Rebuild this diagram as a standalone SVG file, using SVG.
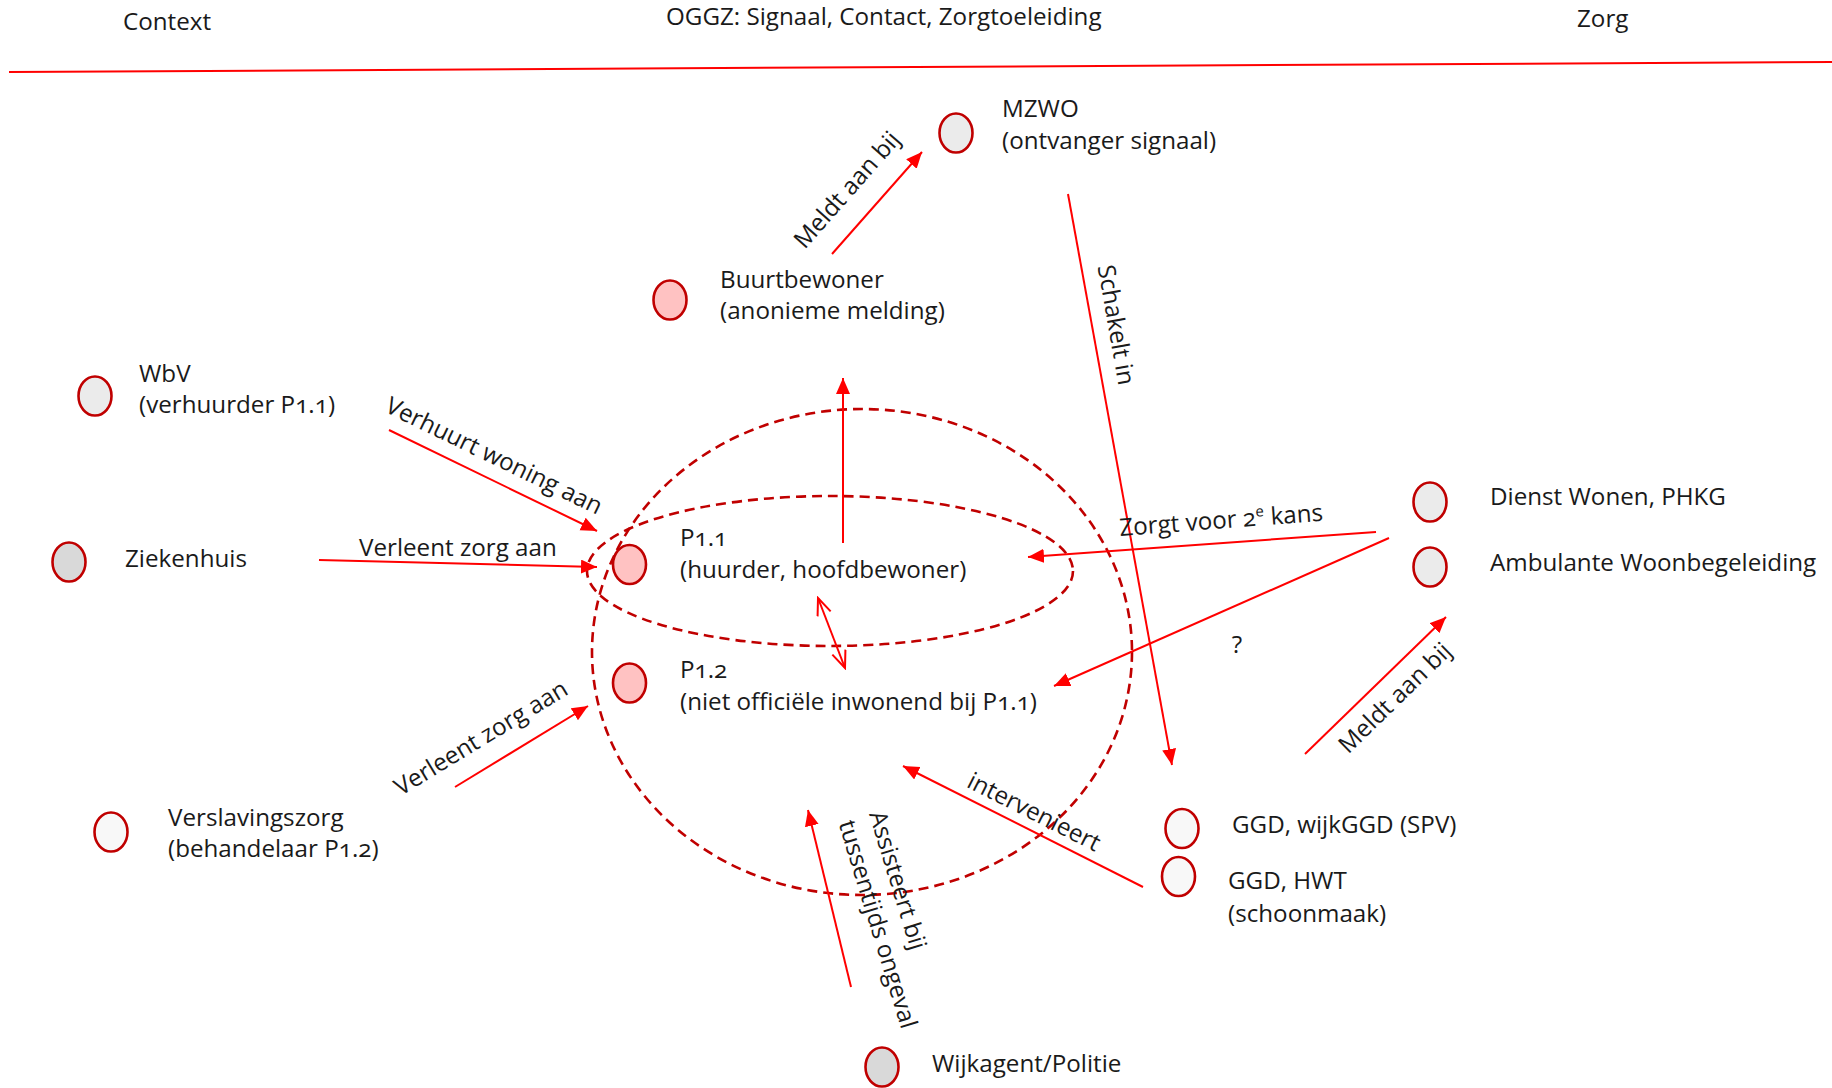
<svg xmlns="http://www.w3.org/2000/svg" width="1832" height="1088" viewBox="0 0 1832 1088">
<style>
text{font-family:"Open Sans","Noto Sans","Liberation Sans",sans-serif;font-size:24.2px;fill:#1a1a1a;font-variant-numeric:oldstyle-nums}
.node{stroke:#c00000;stroke-width:2.6}
.grey{fill:#ebebeb}.dark{fill:#d9d9d9}.pink{fill:#ffc2c2}.white{fill:#f8f8f8}
.arr{stroke:#ff0000;stroke-width:2;fill:none;marker-end:url(#ah)}
.dash{stroke:#c00000;stroke-width:2.6;fill:none;stroke-dasharray:10 6}
.lbl{text-anchor:middle}
</style>
<defs>
<marker id="ah" markerUnits="userSpaceOnUse" markerWidth="17" markerHeight="15" refX="16" refY="7" orient="auto"><path d="M0,0 L16,7 L0,14 z" fill="#ff0000"/></marker>
<marker id="oh" markerUnits="userSpaceOnUse" markerWidth="20" markerHeight="18" refX="18" refY="8" orient="auto-start-reverse"><path d="M1,1 L18,8 L1,15" fill="none" stroke="#ff0000" stroke-width="2"/></marker>
</defs>
<rect width="1832" height="1088" fill="#ffffff"/>
<g id="header">
<line x1="9" y1="72" x2="1832" y2="62" stroke="#ff0000" stroke-width="2"/>
<text x="123" y="30">Context</text>
<text x="666" y="25">OGGZ: Signaal, Contact, Zorgtoeleiding</text>
<text x="1577" y="27">Zorg</text>
</g>
<g id="groups">
<ellipse class="dash" cx="862" cy="652" rx="270" ry="243"/>
<ellipse class="dash" cx="830" cy="571" rx="243" ry="75"/>
</g>
<g id="connectors">
<line class="arr" x1="832" y1="254" x2="922" y2="152"/>
<line class="arr" x1="843" y1="543" x2="843" y2="378"/>
<line class="arr" x1="1068" y1="194" x2="1172" y2="765"/>
<line class="arr" x1="389" y1="430" x2="597" y2="531"/>
<line class="arr" x1="319" y1="560" x2="597" y2="567"/>
<line class="arr" x1="455" y1="787" x2="588" y2="706"/>
<line class="arr" x1="1376" y1="532" x2="1028" y2="557"/>
<line class="arr" x1="1389" y1="538" x2="1054" y2="686"/>
<line class="arr" x1="1305" y1="754" x2="1446" y2="617"/>
<line class="arr" x1="1143" y1="887" x2="903" y2="766"/>
<line class="arr" x1="851" y1="987" x2="808" y2="810"/>
<line x1="818" y1="598" x2="845" y2="668" stroke="#ff0000" stroke-width="2" marker-start="url(#oh)" marker-end="url(#oh)"/>
<text class="lbl" x="847" y="198" transform="rotate(-48.6 847 190)">Meldt aan bij</text>
<text class="lbl" x="1116" y="333" transform="rotate(80 1116 325)">Schakelt in</text>
<text class="lbl" x="494" y="464" transform="rotate(25.9 494 456)">Verhuurt woning aan</text>
<text x="359" y="556">Verleent zorg aan</text>
<text class="lbl" x="481" y="746" transform="rotate(-31.3 481 738)">Verleent zorg aan</text>
<text x="1120" y="536" transform="rotate(-4.3 1120 536)">Zorgt voor 2<tspan dy="-9" font-size="15">e</tspan><tspan dy="9"> kans</tspan></text>
<text class="lbl" x="1237" y="653">?</text>
<text class="lbl" x="1395" y="706" transform="rotate(-44.2 1395 698)">Meldt aan bij</text>
<text class="lbl" x="1034" y="820" transform="rotate(26.8 1034 812)">intervenieert</text>
<text transform="rotate(73 869 814)"><tspan x="869" y="814">Assisteert bij</tspan><tspan x="869" y="846">tussentijds ongeval</tspan></text>
</g>
<g id="node-mzwo"><ellipse class="node grey" cx="956" cy="133" rx="16.5" ry="19.5"/><text x="1002" y="117">MZWO</text><text x="1002" y="149">(ontvanger signaal)</text></g>
<g id="node-buurtbewoner"><ellipse class="node pink" cx="670" cy="300" rx="16.5" ry="19.5"/><text x="720" y="288">Buurtbewoner</text><text x="720" y="319">(anonieme melding)</text></g>
<g id="node-wbv"><ellipse class="node grey" cx="95" cy="396" rx="16.5" ry="19.5"/><text x="139" y="382">WbV</text><text x="139" y="413">(verhuurder P1.1)</text></g>
<g id="node-ziekenhuis"><ellipse class="node dark" cx="69" cy="562" rx="16.5" ry="19.5"/><text x="125" y="567">Ziekenhuis</text></g>
<g id="node-p11"><ellipse class="node pink" cx="629.5" cy="564.5" rx="16.5" ry="19.5"/><text x="680" y="546">P1.1</text><text x="680" y="578">(huurder, hoofdbewoner)</text></g>
<g id="node-p12"><ellipse class="node pink" cx="629.5" cy="683" rx="16.5" ry="19.5"/><text x="680" y="678">P1.2</text><text x="680" y="710">(niet officiële inwonend bij P1.1)</text></g>
<g id="node-verslavingszorg"><ellipse class="node white" cx="111" cy="832" rx="16.5" ry="19.5"/><text x="168" y="826">Verslavingszorg</text><text x="168" y="857">(behandelaar P1.2)</text></g>
<g id="node-wijkagent"><ellipse class="node dark" cx="882" cy="1067" rx="16.5" ry="19.5"/><text x="932" y="1072">Wijkagent/Politie</text></g>
<g id="node-ggd-wijk"><ellipse class="node white" cx="1182" cy="828.5" rx="16.5" ry="19.5"/><text x="1232" y="833">GGD, wijkGGD (SPV)</text></g>
<g id="node-ggd-hwt"><ellipse class="node white" cx="1178.5" cy="876.5" rx="16.5" ry="19.5"/><text x="1228" y="889">GGD, HWT</text><text x="1228" y="922">(schoonmaak)</text></g>
<g id="node-dienst-wonen"><ellipse class="node grey" cx="1430" cy="502" rx="16.5" ry="19.5"/><text x="1490" y="505">Dienst Wonen, PHKG</text></g>
<g id="node-ambulante"><ellipse class="node grey" cx="1430" cy="567" rx="16.5" ry="19.5"/><text x="1490" y="571">Ambulante Woonbegeleiding</text></g>
</svg>
